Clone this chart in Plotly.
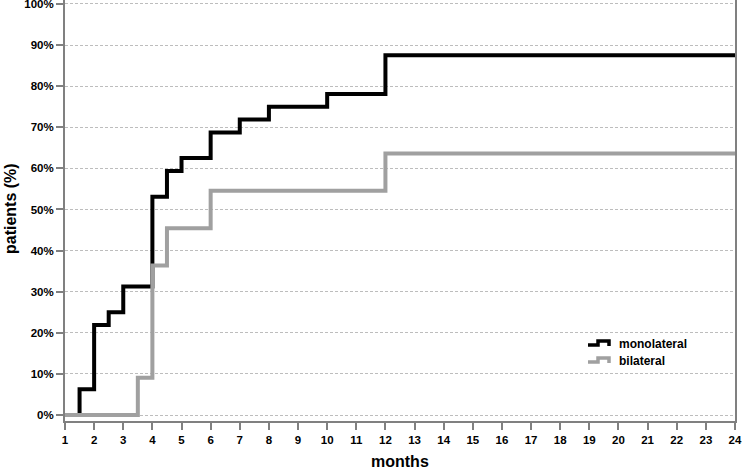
import plotly.graph_objects as go

# Data (step times in months, cumulative % of patients)
mono_months = [1, 1.5, 2, 2.5, 3, 4, 4.5, 5, 6, 7, 8, 10, 12, 24]
mono_pct = [0, 6.25, 21.875, 25, 31.25, 53.125, 59.375, 62.5, 68.75, 71.875, 75, 78.125, 87.5, 87.5]

bi_months = [1, 3.5, 4, 4.5, 6, 12, 24]
bi_pct = [0, 9.09, 36.36, 45.45, 54.55, 63.64, 63.64]

x_ticks = list(range(1, 25))
y_ticks = list(range(0, 101, 10))
y_tick_labels = [f"{v}%" for v in y_ticks]

BLACK = "#000000"
GRAY = "#a0a0a0"
AXIS = "#808080"
FONT = "Liberation Sans, Arial, sans-serif"

W, H = 742, 469
L, R, T, B = 65, 7, 0, 48
PW, PH = W - L - R, H - T - B


def px(x):
    return (x - L) / PW


def py(y):
    return (H - B - y) / PH


fig = go.Figure()
fig.add_trace(go.Scatter(x=mono_months, y=mono_pct, mode="lines", line=dict(shape="hv", color=BLACK, width=4),
                         name="monolateral", showlegend=False))
fig.add_trace(go.Scatter(x=bi_months, y=bi_pct, mode="lines", line=dict(shape="hv", color=GRAY, width=4),
                         name="bilateral", showlegend=False))


# custom legend with step-shaped glyphs (pixel positions converted to paper)
def step_glyph(ylow, color):
    path = (f"M {px(588)} {py(ylow)} L {px(598)} {py(ylow)} L {px(598)} {py(ylow - 4)} "
            f"L {px(609)} {py(ylow - 4)} L {px(609)} {py(ylow + 1)}")
    fig.add_shape(type="path", path=path, xref="paper", yref="paper",
                  line=dict(color=color, width=3.5))


step_glyph(345, BLACK)
step_glyph(362, GRAY)
for label, ty in (("monolateral", 344), ("bilateral", 361)):
    fig.add_annotation(text=f"<b>{label}</b>", xref="paper", yref="paper", x=px(617), y=py(ty),
                       xanchor="left", yanchor="middle", showarrow=False,
                       font=dict(family=FONT, size=12, color="#000"))

# axis titles
fig.add_annotation(text="<b>months</b>", xref="paper", yref="paper", x=px(400), y=py(461),
                   xanchor="center", yanchor="middle", showarrow=False,
                   font=dict(family=FONT, size=16, color="#000"))
fig.add_annotation(text="<b>patients (%)</b>", xref="paper", yref="paper", x=px(10), y=py(209),
                   xanchor="center", yanchor="middle", showarrow=False, textangle=-90,
                   font=dict(family=FONT, size=16, color="#000"))

fig.update_layout(
    width=W, height=H,
    margin=dict(l=L, r=R, t=T, b=B, autoexpand=False),
    paper_bgcolor="white", plot_bgcolor="white",
    font=dict(family=FONT, size=12, color="#000"),
    showlegend=False,
)
fig.update_xaxes(
    range=[1, 24], tickvals=x_ticks, ticktext=[f"<b>{v}</b>" for v in x_ticks],
    showgrid=False, zeroline=False, automargin=False,
    showline=True, linecolor=AXIS, linewidth=2,
    ticks="outside", ticklen=7, tickcolor=AXIS, tickwidth=2,
    ticklabeloverflow="allow",
    tickfont=dict(family=FONT, size=11.5, color="#000"),
)
fig.update_yaxes(
    range=[-1.46, 100.97], tickvals=y_ticks, ticktext=[f"<b>{t}</b>" for t in y_tick_labels],
    showgrid=True, gridcolor="#bdbdbd", griddash="3px,2px", gridwidth=1,
    zeroline=False, automargin=False,
    showline=True, linecolor=AXIS, linewidth=2, mirror=True,
    ticks="outside", ticklen=7, tickcolor=AXIS, tickwidth=2,
    ticklabeloverflow="allow",
    tickfont=dict(family=FONT, size=11.5, color="#000"),
)

fig.write_html("out.html", config={"displayModeBar": False},
               post_script="document.body.style.margin='0';document.body.style.overflow='hidden';")
